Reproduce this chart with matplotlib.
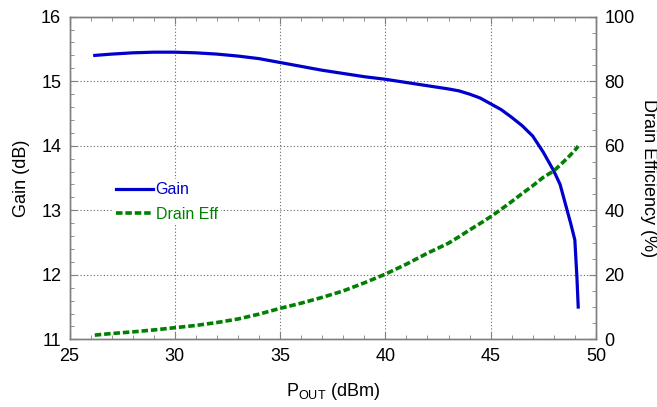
import matplotlib
matplotlib.use("Agg")
import matplotlib.pyplot as plt
from matplotlib.ticker import MultipleLocator

plt.rcParams["font.family"] = ["Liberation Sans", "DejaVu Sans"]

# Output power sweep (dBm), gain (dB) and drain efficiency (%)
pout = [26.2, 27, 28, 29, 30, 31, 32, 33, 34, 35, 36, 37, 38, 39, 40, 41,
        42, 43, 43.5, 44, 44.5, 45, 45.5, 46, 46.5, 47, 47.5, 48, 48.3,
        48.6, 48.8, 49.0, 49.1, 49.16]
gain = [15.40, 15.42, 15.44, 15.45, 15.45, 15.44, 15.42, 15.39, 15.35,
        15.29, 15.23, 15.17, 15.12, 15.07, 15.03, 14.98, 14.93, 14.88,
        14.85, 14.80, 14.74, 14.65, 14.56, 14.44, 14.31, 14.15, 13.90,
        13.61, 13.40, 13.04, 12.80, 12.54, 11.95, 11.50]
eff = [1.3, 1.8, 2.3, 2.9, 3.6, 4.3, 5.2, 6.3, 7.8, 9.6, 11.2, 13.0, 15.0,
       17.5, 20.2, 23.3, 26.7, 29.8, 31.8, 33.9, 35.9, 38.0, 40.3, 42.7,
       45.2, 47.6, 50.2, 52.2, 54.0, 55.9, 57.2, 58.6, 59.4, 59.9]

BLUE = "#0000cc"
GREEN = "#008000"
SPINE = "#808080"
GRID = "#666666"

fig, ax = plt.subplots(figsize=(6.57, 4.07), dpi=100)
fig.subplots_adjust(left=0.1058, right=0.907, top=0.959, bottom=0.1663)
ax2 = ax.twinx()

ax.plot(pout, gain, color=BLUE, lw=2.3, label="Gain", zorder=3)
ax2.plot(pout, eff, color=GREEN, lw=2.6, linestyle=(0, (1.8, 0.8)),
         label="Drain Eff", zorder=3)

ax.set_xlim(25, 50)
ax.set_ylim(11, 16)
ax2.set_ylim(0, 100)

ax.xaxis.set_major_locator(MultipleLocator(5))
ax.xaxis.set_minor_locator(MultipleLocator(1))
ax.yaxis.set_major_locator(MultipleLocator(1))
ax.yaxis.set_minor_locator(MultipleLocator(0.2))
ax2.yaxis.set_major_locator(MultipleLocator(20))
ax2.yaxis.set_minor_locator(MultipleLocator(5))

ax.grid(True, which="major", linestyle=(0, (1, 2)), color=GRID, lw=0.8)
ax.set_axisbelow(True)

for a in (ax, ax2):
    for s in a.spines.values():
        s.set_color(SPINE)
        s.set_linewidth(1.0)

ax.tick_params(which="both", direction="in", color=SPINE, top=True,
               labelsize=13, pad=6)
ax.tick_params(which="major", length=5)
ax.tick_params(which="minor", length=3)
ax2.tick_params(which="both", direction="in", color=SPINE, labelsize=13,
                pad=6)
ax2.tick_params(which="major", length=5)
ax2.tick_params(which="minor", length=3)

ax.set_xlabel(r"P$_{\mathregular{OUT}}$ (dBm)", fontsize=13, labelpad=12)
ax.set_ylabel("Gain (dB)", fontsize=13, labelpad=8)
ax2.set_ylabel("Drain Efficiency (%)", fontsize=13, rotation=270,
               labelpad=4, va="bottom")

h1, l1 = ax.get_legend_handles_labels()
h2, l2 = ax2.get_legend_handles_labels()
leg = ax2.legend(h1 + h2, l1 + l2, loc="center left",
                 bbox_to_anchor=(0.068, 0.425), fontsize=11.5,
                 frameon=True, facecolor="white", edgecolor="none",
                 framealpha=1, handlelength=2.3, handletextpad=0.15,
                 labelspacing=0.6, borderpad=0.2)
for txt, col in zip(leg.get_texts(), (BLUE, GREEN)):
    txt.set_color(col)

fig.savefig("out.png", dpi=100, facecolor="white")
